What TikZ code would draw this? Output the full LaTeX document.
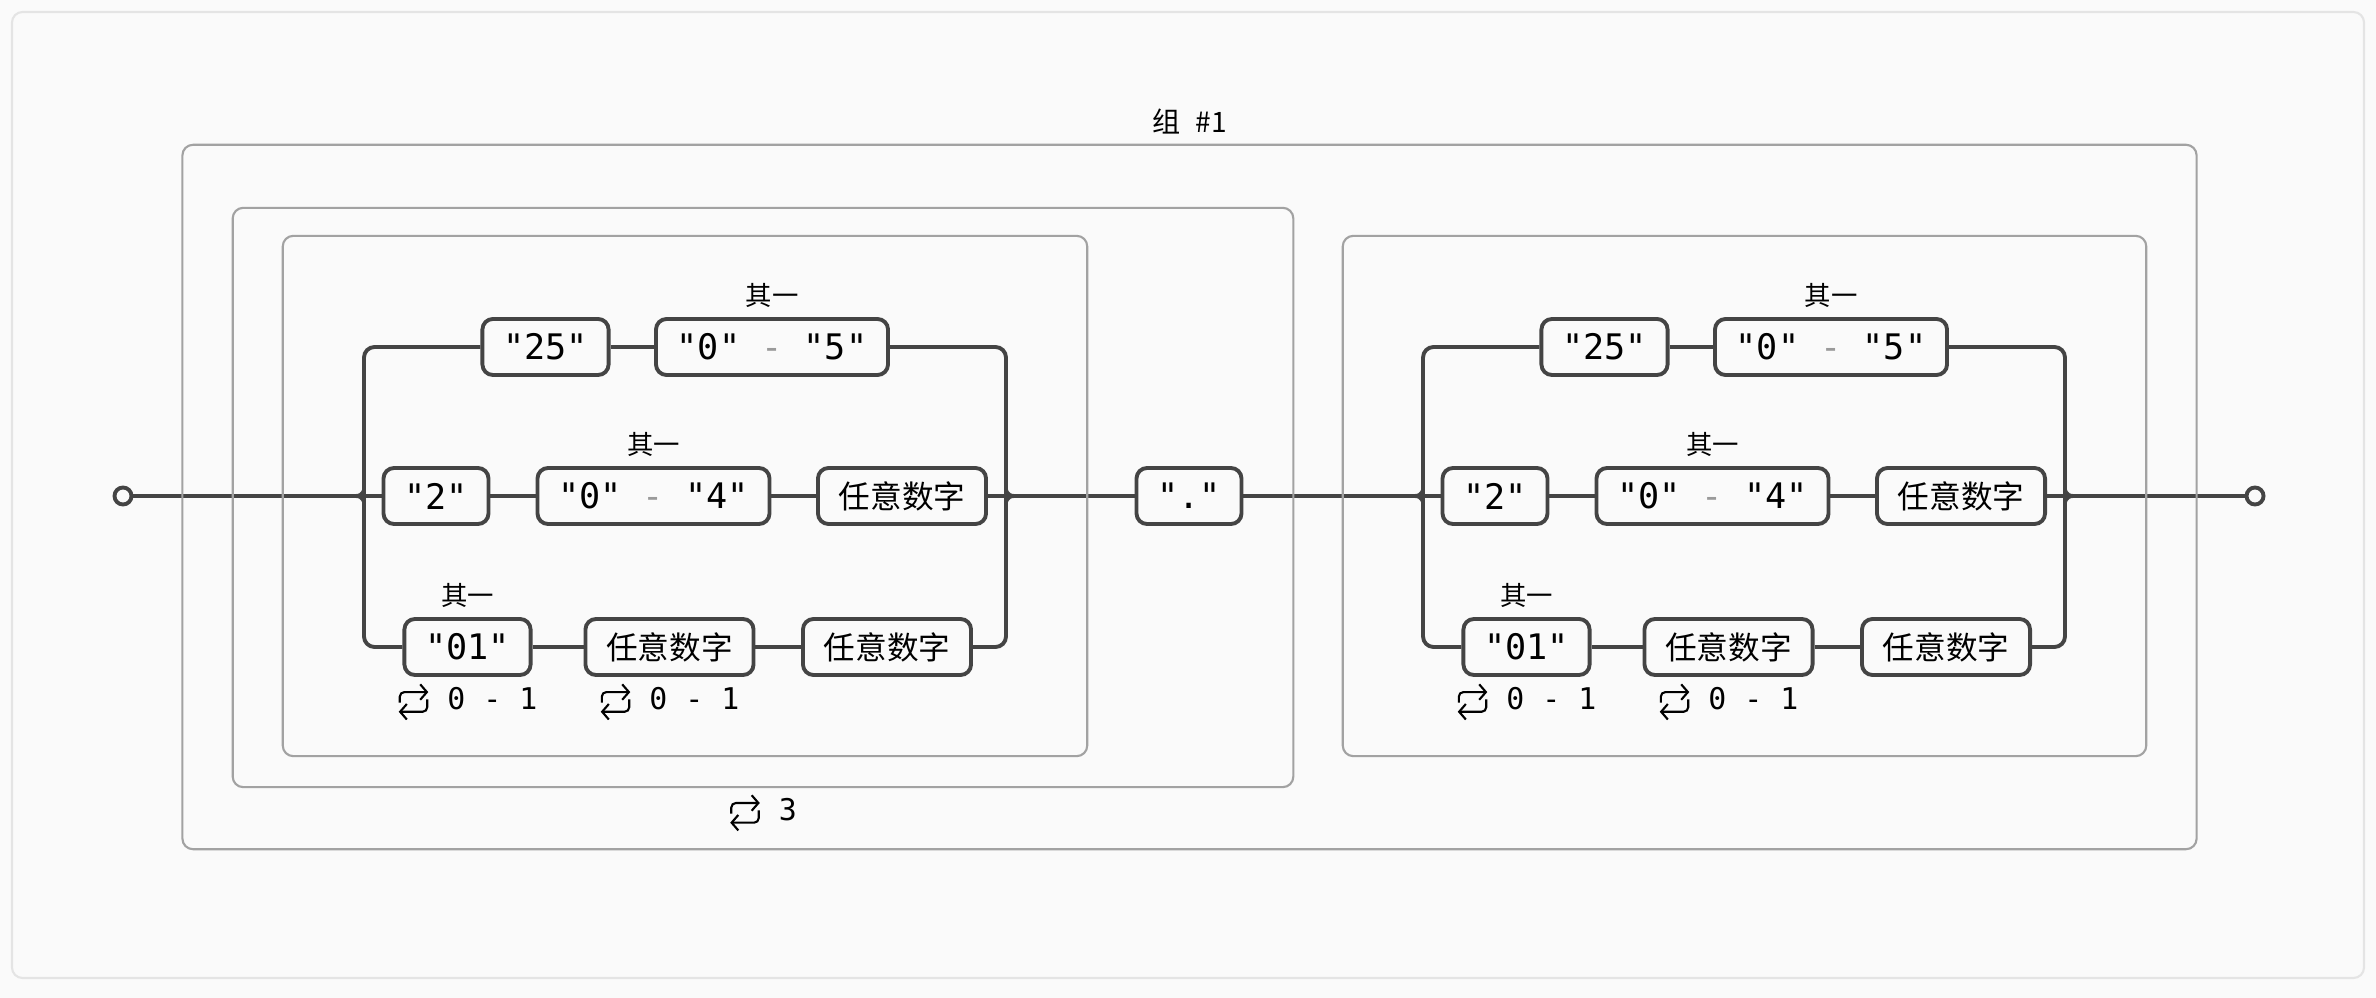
\documentclass[tikz,border=0pt]{standalone}
\usepackage{fontspec}
\setmonofont{DejaVu Sans Mono}
\newfontfamily\cjk{Noto Sans CJK SC}
\usetikzlibrary{positioning, arrows.meta}

\definecolor{railgray}{HTML}{444444}
\definecolor{boxgray}{HTML}{A2A2A2}
\definecolor{paper}{HTML}{FAFAFA}
\definecolor{framegray}{HTML}{E4E4E4}
\definecolor{dashgray}{HTML}{9A9A9A}

\newcommand{\rangetext}[2]{"#1" \textcolor{dashgray}{-} "#2"}
\newcommand{\loopicon}{\tikz[x = 1pt, y = 1pt, line width = 0.6pt, baseline = 0pt,
        >= {Straight Barb[length = 1.9pt, width = 4.4pt]}]{
    \draw[->, rounded corners = 1.3pt] (0.3,2.0) |- (8.4,5.0);
    \draw[->, rounded corners = 1.3pt] (8.1,2.9) |- (0,-0.6);}}

\begin{document}
\begin{tikzpicture}[x = 0.01cm, y = -0.01cm]
    \tikzset{LitStyle/.style = {draw           = railgray,
                                line width     = 1.1pt,
                                rounded corners = 3pt,
                                fill           = paper,
                                minimum height = 0.56cm,
                                inner xsep     = 5.9pt,
                                inner ysep     = 0pt,
                                font           = \ttfamily\fontsize{10}{12}\selectfont}}
    \tikzset{ClassStyle/.style = {LitStyle,
                                  font = \cjk\fontsize{9}{11}\selectfont}}
    \tikzset{TagStyle/.style = {inner sep = 0pt,
                                font      = \cjk\fontsize{7.5}{9}\selectfont}}
    \tikzset{RepStyle/.style = {inner sep = 0pt,
                                font      = \ttfamily\fontsize{8.5}{10}\selectfont}}
    \tikzset{EndStyle/.style = {circle,
                                draw         = railgray,
                                line width   = 1.1pt,
                                fill         = paper,
                                minimum size = 0.17cm,
                                inner sep    = 0pt}}
    \tikzset{RailStyle/.style = {draw            = railgray,
                                 line width      = 1.1pt,
                                 rounded corners = 3pt}}
    \tikzset{GroupStyle/.style = {draw            = boxgray,
                                  line width      = 0.6pt,
                                  rounded corners = 3pt,
                                  inner sep       = 0pt}}
    \useasboundingbox (0,0) rectangle (2376,998);
    \fill[paper] (0,0) rectangle (2376,998);
    \draw[framegray, line width = 0.6pt, rounded corners = 3pt] (12,12) rectangle (2364,978);

    \node[EndStyle] (Start) at (123,496) {};
    \node[EndStyle] (End)   at (2255,496) {};
    \node[LitStyle] (Dot)   at (1189,496) {"."};

    % first octet
    \coordinate (Lsplit) at (356,496);
    \coordinate (Lmerge) at (1014,496);
    \node[LitStyle]   (L25) at (545.5,347) {"25"};
    \node[LitStyle]   (L05) at (772,347)   {\rangetext{0}{5}};
    \node[LitStyle]   (L2)  at (436,496)   {"2"};
    \node[LitStyle]   (L04) at (653.5,496) {\rangetext{0}{4}};
    \node[ClassStyle] (LD1) at (902,496)   {任意数字};
    \node[LitStyle]   (L01) at (467.5,647) {"01"};
    \node[ClassStyle] (LD2) at (669.5,647) {任意数字};
    \node[ClassStyle] (LD3) at (887,647)   {任意数字};
    \node[TagStyle, above = 2.5pt of L05] (LTag05) {其一};
    \node[TagStyle, above = 2.5pt of L04] (LTag04) {其一};
    \node[TagStyle, above = 2.5pt of L01] (LTag01) {其一};
    \node[RepStyle, below = 1.6pt of L01] (LRep01) {\loopicon\ 0 - 1};
    \node[RepStyle, below = 1.6pt of LD2] (LRepD2) {\loopicon\ 0 - 1};

    % second octet
    \coordinate (Rsplit) at (1415,496);
    \coordinate (Rmerge) at (2073,496);
    \node[LitStyle]   (R25) at (1604.5,347) {"25"};
    \node[LitStyle]   (R05) at (1831,347)   {\rangetext{0}{5}};
    \node[LitStyle]   (R2)  at (1495,496)   {"2"};
    \node[LitStyle]   (R04) at (1712.5,496) {\rangetext{0}{4}};
    \node[ClassStyle] (RD1) at (1961,496)   {任意数字};
    \node[LitStyle]   (R01) at (1526.5,647) {"01"};
    \node[ClassStyle] (RD2) at (1728.5,647) {任意数字};
    \node[ClassStyle] (RD3) at (1946,647)   {任意数字};
    \node[TagStyle, above = 2.5pt of R05] (RTag05) {其一};
    \node[TagStyle, above = 2.5pt of R04] (RTag04) {其一};
    \node[TagStyle, above = 2.5pt of R01] (RTag01) {其一};
    \node[RepStyle, below = 1.6pt of R01] (RRep01) {\loopicon\ 0 - 1};
    \node[RepStyle, below = 1.6pt of RD2] (RRepD2) {\loopicon\ 0 - 1};

    % main line
    \draw[RailStyle] (Start) -- (Lsplit);
    \draw[RailStyle] (Lmerge) -- (Dot);
    \draw[RailStyle] (Dot) -- (Rsplit);
    \draw[RailStyle] (Rmerge) -- (End);

    % branches
    \draw[RailStyle] (Lsplit) .. controls +(8,0) and +(0,8) .. ++(8,-16) |- (L25);
    \draw[RailStyle] (Lsplit) .. controls +(8,0) and +(0,-8) .. ++(8,16) |- (L01);
    \draw[RailStyle] (Lmerge) .. controls +(-8,0) and +(0,8) .. ++(-8,-16) |- (L05);
    \draw[RailStyle] (Lmerge) .. controls +(-8,0) and +(0,-8) .. ++(-8,16) |- (LD3);
    \draw[RailStyle] (L25) -- (L05);
    \draw[RailStyle] (Lsplit) -- (L2);
    \draw[RailStyle] (L2) -- (L04);
    \draw[RailStyle] (L04) -- (LD1);
    \draw[RailStyle] (LD1) -- (Lmerge);
    \draw[RailStyle] (L01) -- (LD2);
    \draw[RailStyle] (LD2) -- (LD3);

    \draw[RailStyle] (Rsplit) .. controls +(8,0) and +(0,8) .. ++(8,-16) |- (R25);
    \draw[RailStyle] (Rsplit) .. controls +(8,0) and +(0,-8) .. ++(8,16) |- (R01);
    \draw[RailStyle] (Rmerge) .. controls +(-8,0) and +(0,8) .. ++(-8,-16) |- (R05);
    \draw[RailStyle] (Rmerge) .. controls +(-8,0) and +(0,-8) .. ++(-8,16) |- (RD3);
    \draw[RailStyle] (R25) -- (R05);
    \draw[RailStyle] (Rsplit) -- (R2);
    \draw[RailStyle] (R2) -- (R04);
    \draw[RailStyle] (R04) -- (RD1);
    \draw[RailStyle] (RD1) -- (Rmerge);
    \draw[RailStyle] (R01) -- (RD2);
    \draw[RailStyle] (RD2) -- (RD3);

    % groups
    \node[GroupStyle, minimum width = 8.04cm,  minimum height = 5.2cm]  (LOctet) at (685,496)    {};
    \node[GroupStyle, minimum width = 8.03cm,  minimum height = 5.2cm]  (ROctet) at (1744.5,496) {};
    \node[GroupStyle, minimum width = 10.6cm,  minimum height = 5.79cm] (Repeat) at (763,497.5)  {};
    \node[GroupStyle, minimum width = 20.13cm, minimum height = 7.04cm] (Group)  at (1189.5,497) {};
    \node[TagStyle, font = \cjk\fontsize{8}{10}\selectfont, above = 2.5pt of Group]
        (GroupTag) {组\hspace{0.55em}\#1};
    \node[RepStyle, below = 1.5pt of Repeat] (RepeatTag) {\loopicon\ 3};
\end{tikzpicture}
\end{document}
